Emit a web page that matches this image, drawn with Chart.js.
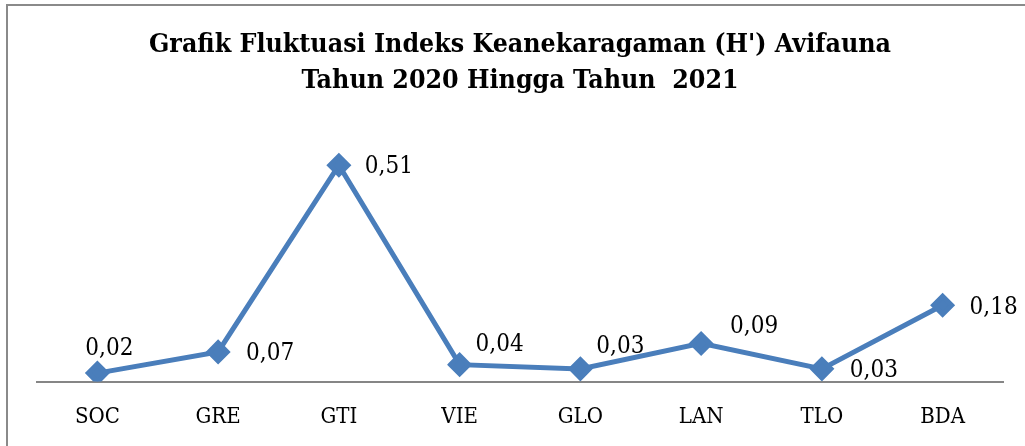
<!DOCTYPE html>
<html>
<head>
<meta charset="utf-8">
<script src="https://cdn.jsdelivr.net/npm/chart.js@4"></script>
<style>
html,body{margin:0;padding:0;background:#fff;}
canvas{display:block;}
</style>
</head>
<body>
<canvas id="c" width="1025" height="446"></canvas>
<script>
const categories = ['SOC','GRE','GTI','VIE','GLO','LAN','TLO','BDA'];
const values = [0.02,0.07,0.51,0.04,0.03,0.09,0.03,0.18];
const valueLabels = ['0,02','0,07','0,51','0,04','0,03','0,09','0,03','0,18'];
const titleLines = ["Grafik Fluktuasi Indeks Keanekaragaman (H') Avifauna", 'Tahun 2020 Hingga Tahun  2021'];

const labelOffsets = [[12,-24],[52,2],[50,2],[40,-20],[40,-22],[53,-17],[52,2],[51,3]];
const FONT = '"DejaVu Serif Condensed", "DejaVu Serif", serif';

const frame = {
  id:'frame',
  beforeDraw(chart){
    const ctx = chart.ctx;
    ctx.save();
    ctx.fillStyle = '#fff';
    ctx.fillRect(0,0,chart.width,chart.height);
    ctx.strokeStyle = '#8a8a8a';
    ctx.lineWidth = 2;
    ctx.beginPath();
    ctx.moveTo(7, chart.height + 5);
    ctx.lineTo(7, 5);
    ctx.lineTo(chart.width + 5, 5);
    ctx.stroke();
    ctx.restore();
  }
};

const dataLabels = {
  id:'dataLabels',
  afterDatasetsDraw(chart){
    const ctx = chart.ctx;
    const meta = chart.getDatasetMeta(0);
    ctx.save();
    ctx.font = '24px ' + FONT;
    ctx.fillStyle = '#000';
    ctx.textAlign = 'center';
    ctx.textBaseline = 'middle';
    meta.data.forEach((pt,i)=>{
      const o = labelOffsets[i];
      ctx.fillText(valueLabels[i], pt.x + o[0], pt.y + o[1]);
    });
    ctx.restore();
  }
};

new Chart(document.getElementById('c'), {
  type:'line',
  data:{
    labels: categories,
    datasets:[{
      data: values,
      borderColor:'#4a7ebb',
      backgroundColor:'#4a7ebb',
      borderWidth:5,
      pointStyle:'rectRot',
      pointRadius:9,
      pointHoverRadius:9,
      tension:0,
      fill:false
    }]
  },
  options:{
    responsive:false,
    animation:false,
    devicePixelRatio:1,
    layout:{padding:{left:37,right:22,top:0,bottom:-6}},
    plugins:{
      legend:{display:false},
      tooltip:{enabled:false},
      title:{
        display:true,
        text:titleLines,
        color:'#000',
        font:{family:FONT,size:26.5,weight:'bold',lineHeight:1.36},
        padding:{top:27,bottom:28}
      }
    },
    scales:{
      x:{
        offset:true,
        grid:{display:false,drawTicks:false},
        border:{display:true,color:'#868686',width:2},
        ticks:{color:'#000',font:{family:FONT,size:22},padding:22}
      },
      y:{
        display:false,
        min:0,max:0.6
      }
    }
  },
  plugins:[frame,dataLabels]
});
</script>
</body>
</html>
